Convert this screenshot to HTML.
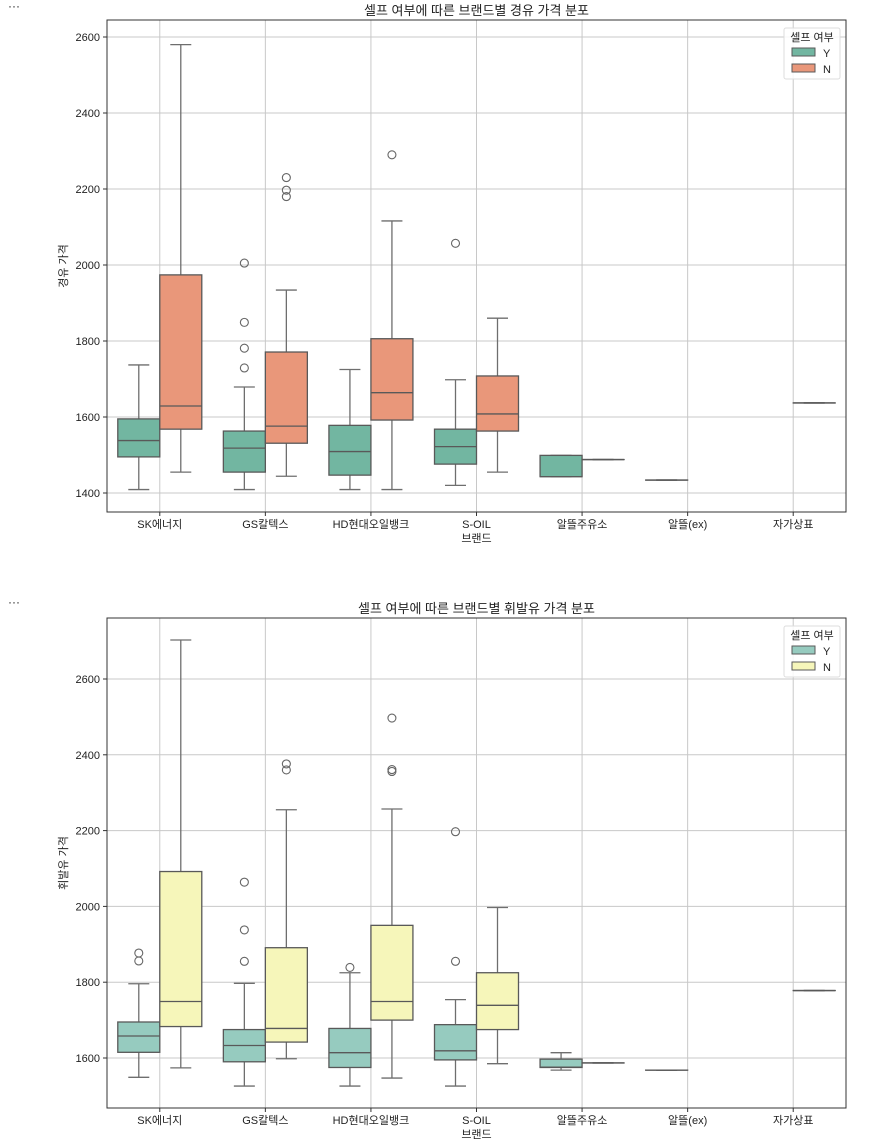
<!DOCTYPE html>
<html><head><meta charset="utf-8">
<style>
body{margin:0;background:#fff;font-family:"Liberation Sans","Noto Sans CJK KR",sans-serif;}
svg{display:block}
text{font-family:"Liberation Sans","Noto Sans CJK KR",sans-serif;fill:#222}
</style></head>
<body>
<svg id="root" width="883" height="1145">
<text x="8" y="10" font-size="12" fill="#555">···</text>
<text x="8" y="606" font-size="12" fill="#555">···</text>
</svg>
<script>
const categories = ["SK에너지","GS칼텍스","HD현대오일뱅크","S-OIL","알뜰주유소","알뜰(ex)","자가상표"];
// [lo, q1, med, q3, hi] or null
const dieselY = [[1409,1495,1538,1595,1737],[1409,1455,1518,1563,1679],[1409,1447,1509,1578,1725],[1420,1476,1522,1568,1698],[1443,1443,1443,1499,1499],[1434,1434,1434,1434,1434],null];
const dieselN = [[1455,1568,1629,1974,2580],[1444,1531,1576,1771,1934],[1409,1592,1664,1806,2116],[1455,1563,1608,1708,1860],[1488,1488,1488,1488,1488],null,[1637,1637,1637,1637,1637]];
const dieselOutY = [[],[2005,1849,1781,1729],[],[2057],[],[],[]];
const dieselOutN = [[],[2230,2197,2180],[2290],[],[],[],[]];
const gasY = [[1549,1615,1658,1695,1796],[1526,1590,1633,1675,1797],[1526,1575,1614,1678,1825],[1526,1595,1619,1688,1754],[1568,1575,1576,1597,1614],[1568,1568,1568,1568,1568],null];
const gasN = [[1574,1683,1749,2092,2703],[1598,1642,1678,1891,2255],[1547,1700,1749,1950,2257],[1585,1675,1739,1825,1997],[1587,1587,1587,1587,1587],null,[1778,1778,1778,1778,1778]];
const gasOutY = [[1877,1856],[2064,1938,1855],[1839],[2197,1855],[],[],[]];
const gasOutN = [[],[2376,2360],[2497,2361,2356],[],[],[],[]];
const dieselTicks = [1400,1600,1800,2000,2200,2400,2600];
const gasTicks = [1600,1800,2000,2200,2400,2600];

const NS="http://www.w3.org/2000/svg";
const root=document.getElementById('root');
function mk(tag,attrs,parent,txt){const e=document.createElementNS(NS,tag);for(const k in attrs)e.setAttribute(k,attrs[k]);if(txt!==undefined)e.textContent=txt;parent.appendChild(e);return e;}

function chart(cfg){
  const g=mk('g',{},root);
  
  
  const L=107,R=846,T=cfg.top,B=cfg.bottom;
  const y=v=>cfg.y0+(v-cfg.v0)*(cfg.y1-cfg.y0)/(cfg.v1-cfg.v0);
  const step=(R-L)/categories.length;
  const xc=i=>L+step*(i+0.5);
  // grid
  cfg.ticks.forEach(t=>{
    const ln=mk('line',{x1:L,x2:R,y1:y(t),y2:y(t),stroke:'#c8c8c8','stroke-width':1},g);
    
    
    mk('line',{x1:L-4,x2:L,y1:y(t),y2:y(t),stroke:'#333'},g);
    const tx=mk('text',{x:L-7,y:y(t)+4,'font-size':11,'text-anchor':'end'},g,t);
    
    
  });
  categories.forEach((c,i)=>{
    const ln=mk('line',{x1:xc(i),x2:xc(i),y1:T,y2:B,stroke:'#c8c8c8'},g);
    
    
    mk('line',{x1:xc(i),x2:xc(i),y1:B,y2:B+4,stroke:'#333'},g);
    const tx=mk('text',{x:xc(i),y:B+16,'font-size':11,'text-anchor':'middle'},g,c);
    
    
  });
  const bw=42;
  function box(d,i,off,col,outs,label){
    const cx=xc(i)+off;
    const bg=mk('g',{},g);
    
    
    if(d){
      const [lo,q1,md,q3,hi]=d;
      const lc='#6e6e6e';
      mk('line',{x1:cx,x2:cx,y1:y(hi),y2:y(q3),stroke:lc,'stroke-width':1.3},bg);
      mk('line',{x1:cx,x2:cx,y1:y(q1),y2:y(lo),stroke:lc,'stroke-width':1.3},bg);
      mk('line',{x1:cx-10.5,x2:cx+10.5,y1:y(hi),y2:y(hi),stroke:lc,'stroke-width':1.3},bg);
      mk('line',{x1:cx-10.5,x2:cx+10.5,y1:y(lo),y2:y(lo),stroke:lc,'stroke-width':1.3},bg);
      mk('rect',{x:cx-bw/2,y:y(q3),width:bw,height:Math.max(0.01,y(q1)-y(q3)),fill:col,stroke:'#595959','stroke-width':1.3},bg);
      mk('line',{x1:cx-bw/2,x2:cx+bw/2,y1:y(md),y2:y(md),stroke:'#595959','stroke-width':1.3},bg);
    }
    outs.forEach(v=>mk('circle',{cx:cx,cy:y(v),r:4,fill:'none',stroke:'#666','stroke-width':1.1},bg));
  }
  categories.forEach((c,i)=>{
    box(cfg.Y[i],i,-bw/2,cfg.colY,cfg.outY[i],'y');
    box(cfg.N[i],i,bw/2,cfg.colN,cfg.outN[i],'n');
  });
  const fr=mk('rect',{x:L,y:T,width:R-L,height:B-T,fill:'none',stroke:'#333','stroke-width':1},g);
  
  
  const ti=mk('text',{x:(L+R)/2,y:T-5,'font-size':13,'text-anchor':'middle'},g,cfg.title);
  
  
  const xl=mk('text',{x:xc(3),y:B+30,'font-size':11,'text-anchor':'middle'},g,'브랜드');
  
  
  const ym=(T+B)/2;
  const yl=mk('text',{x:67,y:ym,'font-size':11,'text-anchor':'middle',transform:`rotate(-90 67 ${ym})`},g,cfg.ylabel);
  
  
  // legend
  const lg=mk('g',{},g);
  
  
  mk('rect',{x:784,y:T+8,width:56,height:51,fill:'#fff','fill-opacity':0.85,stroke:'#ddd',rx:2},lg);
  mk('text',{x:812,y:T+21,'font-size':11,'text-anchor':'middle'},lg,'셀프 여부');
  [['Y',cfg.colY],['N',cfg.colN]].forEach((e,k)=>{
    const le=mk('g',{},lg);
    
    
    mk('rect',{x:792,y:T+28+k*16,width:23,height:8,fill:e[1],stroke:'#595959'},le);
    mk('text',{x:823,y:T+37+k*16,'font-size':11},le,e[0]);
  });
}
chart({name:'diesel-chart',top:20,bottom:512,v0:1400,y0:493,v1:2600,y1:37,ticks:dieselTicks,
  Y:dieselY,N:dieselN,outY:dieselOutY,outN:dieselOutN,colY:'#72b6a1',colN:'#e9977a',
  title:'셀프 여부에 따른 브랜드별 경유 가격 분포',ylabel:'경유 가격'});
chart({name:'gasoline-chart',top:618,bottom:1108,v0:1600,y0:1058,v1:2600,y1:679,ticks:gasTicks,
  Y:gasY,N:gasN,outY:gasOutY,outN:gasOutN,colY:'#96cbbf',colN:'#f6f6ba',
  title:'셀프 여부에 따른 브랜드별 휘발유 가격 분포',ylabel:'휘발유 가격'});
</script>
</body></html>
